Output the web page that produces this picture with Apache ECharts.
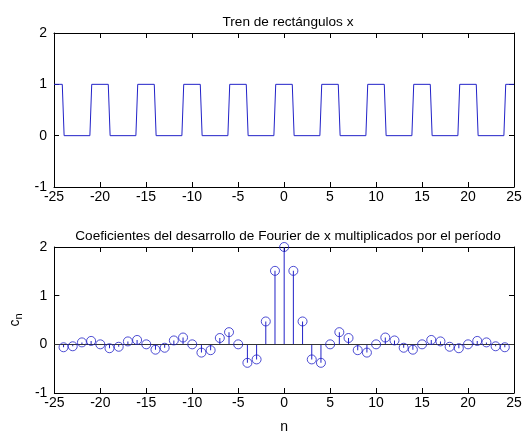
<!DOCTYPE html>
<html>
<head>
<meta charset="utf-8">
<script src="https://cdn.jsdelivr.net/npm/echarts@6/dist/echarts.min.js"></script>
<style>
  html, body { margin: 0; padding: 0; background: #fff; }
  #main { width: 527px; height: 435px; }
</style>
</head>
<body>
<div id="main"></div>
<script>
// rectangle train: pulses of width 2, period 5 (edges where the signal rises / falls)
var riseEdges = [-21, -16, -11, -6, -1, 4, 9, 14, 19, 24];
var fallEdges = [-24, -19, -14, -9, -4, 1, 6, 11, 16, 21];
var xRange = [-25, 25];

// Fourier coefficients times the period, n = -24..24
var nValues = [];
for (var k = -24; k <= 24; k++) nValues.push(k);
var cValues = [
  -0.06, -0.04, 0.04, 0.07, 0.00, -0.08, -0.05, 0.06, 0.09, 0.00,
  -0.11, -0.07, 0.08, 0.14, 0.00, -0.17, -0.12, 0.13, 0.25, 0.00,
  -0.38, -0.31, 0.47, 1.51, 2.00, 1.51, 0.47, -0.31, -0.38, 0.00,
  0.25, 0.13, -0.12, -0.17, 0.00, 0.14, 0.08, -0.07, -0.11, 0.00,
  0.09, 0.06, -0.05, -0.08, 0.00, 0.07, 0.04, -0.04, -0.06
];

var blue = '#2222c8';
var font = 'Liberation Sans, Arial, sans-serif';

// build the sampled polyline of the rectangle train
var edges = [];
riseEdges.forEach(function (e) { edges.push({ x: e, up: true }); });
fallEdges.forEach(function (e) { edges.push({ x: e, up: false }); });
edges.sort(function (a, b) { return a.x - b.x; });
var dt = 0.1;
var trainData = [[xRange[0], 1]];
edges.forEach(function (e) {
  var a = e.up ? 0 : 1, b = e.up ? 1 : 0;
  trainData.push([e.x - dt, a], [e.x, 0.5], [e.x + dt, b]);
});
trainData.push([xRange[1], 1]);

var stemData = nValues.map(function (n, i) { return [n, cValues[i]]; });

function xAx(gi, pos, labels, name) {
  return {
    type: 'value', gridIndex: gi, position: pos,
    min: xRange[0], max: xRange[1], interval: 5,
    axisLine: { show: true, onZero: false, lineStyle: { color: '#000', width: 1 } },
    axisTick: { show: true, inside: true, length: 5, lineStyle: { color: '#000' } },
    axisLabel: { show: labels, color: '#000', fontSize: 14, fontFamily: font, margin: 3 },
    splitLine: { show: false },
    name: name || '', nameLocation: 'middle', nameGap: 27,
    nameTextStyle: { color: '#000', fontSize: 14, fontFamily: font }
  };
}
function yAx(gi, pos, labels, name) {
  return {
    type: 'value', gridIndex: gi, position: pos,
    min: -1, max: 2, interval: 1,
    axisLine: { show: true, onZero: false, lineStyle: { color: '#000', width: 1 } },
    axisTick: { show: true, inside: true, length: 5, lineStyle: { color: '#000' } },
    axisLabel: { show: labels, color: '#000', fontSize: 14, fontFamily: font, margin: 7 },
    splitLine: { show: false },
    name: name || '', nameLocation: 'middle', nameGap: 30, nameRotate: 90,
    nameTextStyle: {
      color: '#000', fontSize: 14, fontFamily: font,
      rich: { sub: { fontSize: 11, fontFamily: font, color: '#000', verticalAlign: 'bottom', padding: [7, 0, 0, 0] } }
    }
  };
}

var chart = echarts.init(document.getElementById('main'));
chart.setOption({
  animation: false,
  backgroundColor: '#fff',
  title: [
    { text: 'Tren de rectángulos x', left: 283, top: 10, textAlign: 'center',
      textStyle: { fontSize: 13.6, fontWeight: 'normal', color: '#000', fontFamily: font } },
    { text: 'Coeficientes del desarrollo de Fourier de x multiplicados por el período', left: 283, top: 224, textAlign: 'center',
      textStyle: { fontSize: 13.6, fontWeight: 'normal', color: '#000', fontFamily: font } }
  ],
  grid: [
    { left: 54, right: 13, top: 33, height: 154, containLabel: false },
    { left: 54, right: 13, top: 247, height: 150, containLabel: false }
  ],
  xAxis: [
    xAx(0, 'bottom', true), xAx(0, 'top', false),
    xAx(1, 'bottom', true, 'n'), xAx(1, 'top', false)
  ],
  yAxis: [
    yAx(0, 'left', true), yAx(0, 'right', false),
    yAx(1, 'left', true, 'c{sub|n}'), yAx(1, 'right', false)
  ],
  series: [
    {
      type: 'line', xAxisIndex: 0, yAxisIndex: 0, data: trainData,
      showSymbol: false, lineStyle: { color: blue, width: 1 }, silent: true
    },
    {
      type: 'bar', xAxisIndex: 2, yAxisIndex: 2, data: stemData,
      barWidth: 1, itemStyle: { color: blue }, silent: true,
      markLine: {
        silent: true, symbol: 'none', label: { show: false },
        lineStyle: { color: '#333', type: 'solid', width: 1 },
        data: [{ yAxis: 0 }]
      }
    },
    {
      type: 'scatter', xAxisIndex: 2, yAxisIndex: 2, data: stemData,
      symbol: 'circle', symbolSize: 9, z: 5, silent: true,
      itemStyle: { color: 'rgba(0,0,0,0)', borderColor: blue, borderWidth: 1 }
    }
  ]
});
</script>
</body>
</html>
